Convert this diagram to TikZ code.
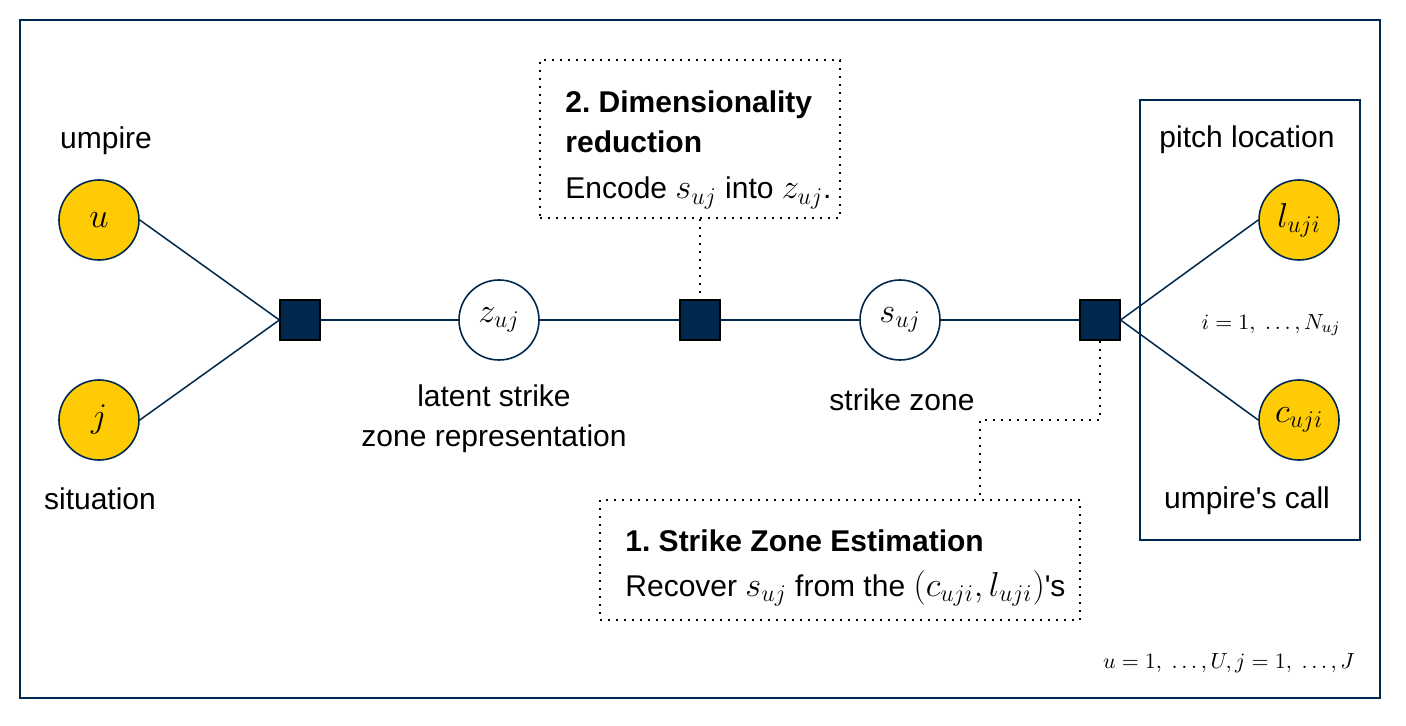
\documentclass[tikz,border=0pt]{standalone}
\usepackage{amsmath}
\usepackage{fontspec}
\setmainfont{Liberation Sans}
\usepackage{tikz}
\definecolor{navy}{RGB}{0,39,76}
\definecolor{maize}{RGB}{255,203,5}
\frenchspacing
\newcommand{\mth}[1]{{\fontsize{17.5}{20}\selectfont$#1$}}

\begin{document}
\begin{tikzpicture}[x=0.5pt, y=-0.5pt,
		font=\fontsize{15}{20}\selectfont,
		obs/.style={shape=circle, draw=navy, fill=maize, line width=0.8pt, minimum size=40pt, inner sep=0pt, font=\fontsize{17.5}{20}\selectfont},
		latent/.style={shape=circle, draw=navy, fill=white, line width=0.8pt, minimum size=40pt, inner sep=0pt, font=\fontsize{17.5}{20}\selectfont},
		factor/.style={shape=rectangle, draw=black, fill=navy, minimum size=20pt, inner sep=0pt, line width=0.6pt},
		link/.style={draw=navy, line width=0.75pt},
		note/.style={draw=black, line width=1pt, dash pattern=on 1pt off 3pt},
		line/.style={anchor=base west, inner sep=0pt},
		cue/.style={draw=black, line width=1pt, dash pattern=on 1pt off 3pt}]
			\useasboundingbox (0,0) rectangle (1406,726);
			\draw[navy, line width=1pt] (20,20) rectangle (1380,698);
			\draw[navy, line width=1pt] (1140,100) rectangle (1360,540);
			
			\node[obs] (u) at (99,220) {$u$};
			\node[obs] (j) at (99,420) {$j$};
			\node[factor] (f1) at (300,320) {};
			\node[latent] (z) at (499,320) {$z_{uj}$};
			\node[factor] (f2) at (700,320) {};
			\node[latent] (s) at (900,320) {$s_{uj}$};
			\node[factor] (f3) at (1100,320) {};
			\node[obs] (l) at (1299,220) {$l_{uji}$};
			\node[obs] (c) at (1299,420) {$c_{uji}$};
			
			\node (umpire) at (106,141) {umpire};
			\node (situation) at (100,499) {situation};
			\node[align=center] (zname) at (494,419) {latent strike\\zone representation};
			\node (sname) at (902,400) {strike zone};
			\node (pitch) at (1247,140) {pitch location};
			\node (call) at (1247,501) {umpire\textquotesingle s call};
			\node[font=\fontsize{11}{13}\selectfont] (irange) at (1271,325) {$i = 1,\ \dots, N_{uj}$};
			\node[font=\fontsize{11}{13}\selectfont] (ujrange) at (1229,663) {$u = 1,\ \dots, U, j = 1,\ \dots, J$};
			
			% 2. dimensionality reduction
			\node[note, minimum width=150pt, minimum height=79pt] (dimbox) at (690,139) {};
			\node[line] (dimhead) at (565,113) {\textbf{2. Dimensionality}};
			\node[line] (dimhead2) at (565,153) {\textbf{reduction}};
			\node[line] (dimtext) at (565,199) {Encode \mth{s_{uj}} into \mth{z_{uj}}.};
			
			% 1. strike zone estimation
			\node[note, minimum width=240pt, minimum height=60pt] (estbox) at (840,560) {};
			\node[line] (esthead) at (625,551) {\textbf{1. Strike Zone Estimation}};
			\node[line] (esttext) at (625,596) {Recover \mth{s_{uj}} from the \mth{(c_{uji}, l_{uji})}\textquotesingle s};
			\coordinate (bend) at (980,420);
			
			\path [link] (u.east) edge (f1.west);
			\path [link] (j.east) edge (f1.west);
			\path [link] (f1) edge (z);
			\path [link] (z) edge (f2);
			\path [link] (f2) edge (s);
			\path [link] (s) edge (f3);
			\path [link] (f3.east) edge (l.west);
			\path [link] (f3.east) edge (c.west);
			
			\draw [cue] (dimbox.south -| f2) -- (f2.north);
			\draw [cue] (f3.south) |- (bend) -- (bend |- estbox.north);
		\end{tikzpicture}
\end{document}
